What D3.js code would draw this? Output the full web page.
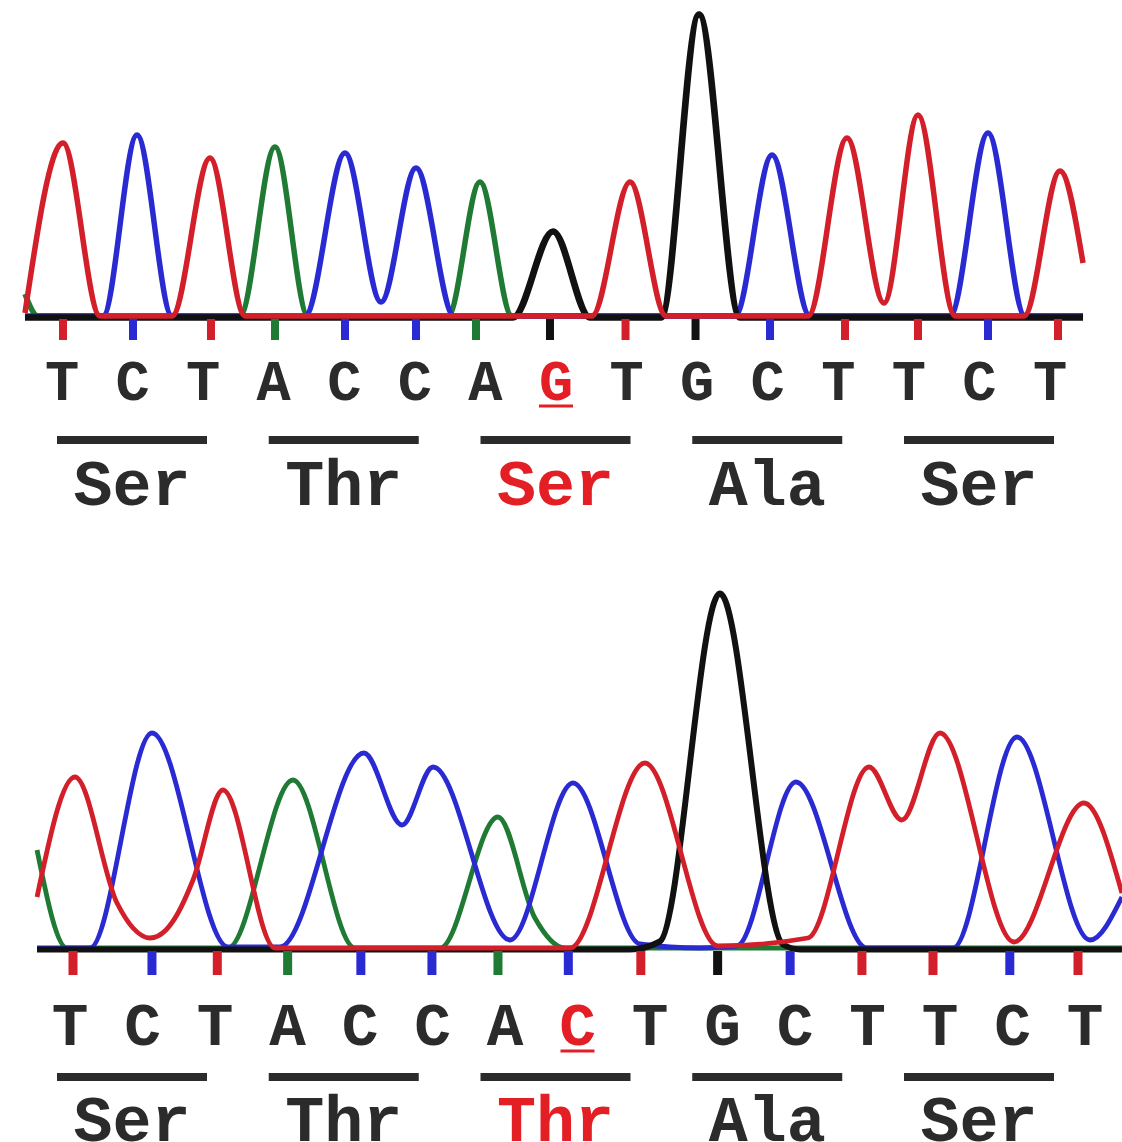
<!DOCTYPE html>
<html>
<head>
<meta charset="utf-8">
<script src="https://cdn.jsdelivr.net/npm/d3@7"></script>
<style>
  body { margin: 0; background: #fff; }
  svg { display: block; }
  .base, .amino { font-family: "Courier New", "Liberation Mono", monospace; font-weight: bold; }
</style>
</head>
<body>
<div id="chart"></div>
<script>
var svgWidth = 1122;
var svgHeight = 1142;

// base calls: wild type (top) and mutant (bottom)
var basesTop = ["T","C","T","A","C","C","A","G","T","G","C","T","T","C","T"];
var basesBottom = ["T","C","T","A","C","C","A","C","T","G","C","T","T","C","T"];
var mutatedBase = 7;

var aminoTop = ["Ser","Thr","Ser","Ala","Ser"];
var aminoBottom = ["Ser","Thr","Thr","Ala","Ser"];
var mutatedCodon = 2;

// where each call sits on the trace (in base units)
var callsTop = [0, 0.985, 2.082, 2.983, 3.968, 4.967, 5.811, 6.852, 7.915, 8.900, 9.948, 11.003, 12.030, 13.015, 14.0];
var callsBottom = [0, 1.100, 2.010, 2.990, 4.010, 5.000, 5.920, 6.900, 7.910, 8.980, 9.990, 10.990, 11.980, 13.050, 14.0];

// trace turning points [position, signal]
var topT = [[-0.535,3],[0,173],[0.521,0],[1.534,0],[2.068,158],[2.561,0],[7.443,0],[7.978,134],[8.485,0],
  [10.483,0],[11.031,178],[11.552,13],[12.030,201],[12.552,0],[13.522,0],[14.028,145],[14.352,53]];
var topC = [[-0.535,0],[0.563,0],[1.041,181],[1.534,0],[3.405,0],[3.968,163],[4.474,14],[4.967,148],[5.502,0],
  [9.455,0],[9.976,161],[10.511,0],[12.481,0],[13.015,183],[13.536,0],[14.352,0]];
var topA = [[-0.535,22],[-0.352,0],[2.490,0],[2.983,169],[3.447,0],[5.417,0],[5.867,134],[6.318,0],[14.352,0]];
var topG = [[-0.535,0],[6.332,0],[6.895,86],[7.415,0],[8.414,0],[8.949,303],[9.526,0],[14.352,0]];

var bottomT = [[-0.501,51],[0.028,171],[0.613,45],[0.836,20],[1.073,10],[1.295,18],[1.463,35],[1.672,68],
  [2.089,158],[2.814,0],[6.923,0],[7.967,185],[8.984,2],[10.238,10],[11.088,181],[11.547,128],[12.077,215],
  [13.108,6],[14.083,145],[14.612,55]];
var bottomC = [[-0.501,0],[0.237,0],[1.100,215],[2.159,1],[2.883,1],[4.053,195],[4.583,123],[5.015,181],
  [6.087,8],[6.965,165],[7.898,4],[8.734,0],[9.249,2],[10.071,166],[11.060,0],[12.258,0],[13.150,211],
  [14.166,8],[14.612,51]];
var bottomA = [[-0.501,98],[-0.084,0],[2.159,0],[3.064,168],[3.928,0],[5.112,0],[5.920,131],[6.435,30],
  [6.853,0],[14.612,0]];
var bottomG = [[-0.501,0],[7.759,0],[8.176,8],[9.012,356],[9.890,5],[10.127,0],[14.612,0]];

var baseColor = { A: "#1f7a33", C: "#2a2ad2", G: "#111111", T: "#d21f29" };
var textColor = "#2b2b2b";
var markRed = "#e31e25";

var panels = [
  { traces: { A: topA, C: topC, G: topG, T: topT }, calls: callsTop, bases: basesTop, amino: aminoTop,
    xRange: [63, 1058], baseline: 316, yMax: 300, lineWidth: 5.5,
    tickTop: 319, tickBottom: 340, tickWidth: 8,
    letterRange: [62, 1050], letterY: 400, letterSize: 57,
    barY: 440, aminoY: 505 },
  { traces: { A: bottomA, C: bottomC, G: bottomG, T: bottomT }, calls: callsBottom, bases: basesBottom, amino: aminoBottom,
    xRange: [73, 1078], baseline: 948, yMax: 360, lineWidth: 4.8,
    tickTop: 951, tickBottom: 975, tickWidth: 9,
    letterRange: [70, 1085], letterY: 1045, letterSize: 61,
    barY: 1077, aminoY: 1141 }
];

var svg = d3.select("#chart")
  .append("svg")
  .attr("width", svgWidth)
  .attr("height", svgHeight);

// codon bars are placed the same way in both panels
var codonX = d3.scalePoint().domain(d3.range(5)).range([57, 904]);
var barWidth = 150;

panels.forEach(function(p) {
  var x = d3.scaleLinear().domain([0, 14]).range(p.xRange);
  var y = d3.scaleLinear().domain([0, p.yMax]).range([p.baseline, p.baseline - p.yMax]);

  var line = d3.line()
    .x(function(d) { return x(d[0]); })
    .y(function(d) { return y(d[1]); })
    .curve(d3.curveMonotoneX);

  var g = svg.append("g");

  // green, blue, then the black (thicker, a bit lower, hides their baselines), red on top
  ["A", "C", "G", "T"].forEach(function(b) {
    g.append("path")
      .datum(p.traces[b])
      .attr("d", line)
      .attr("transform", b === "G" ? "translate(0,1.5)" : null)
      .attr("fill", "none")
      .attr("stroke", baseColor[b])
      .attr("stroke-width", b === "G" ? p.lineWidth + 1.2 : p.lineWidth)
      .attr("stroke-linejoin", "round")
      .attr("stroke-linecap", "butt");
  });

  // base call ticks
  g.selectAll("rect.tick")
    .data(p.calls)
    .enter()
    .append("rect")
    .attr("class", "tick")
    .attr("x", function(d) { return x(d) - p.tickWidth / 2; })
    .attr("y", p.tickTop)
    .attr("width", p.tickWidth)
    .attr("height", p.tickBottom - p.tickTop)
    .attr("fill", function(d, i) { return baseColor[p.bases[i]]; });

  // sequence letters
  var letterX = d3.scalePoint().domain(d3.range(p.bases.length)).range(p.letterRange);

  g.selectAll("text.base")
    .data(p.bases)
    .enter()
    .append("text")
    .attr("class", "base")
    .attr("x", function(d, i) { return letterX(i); })
    .attr("y", p.letterY)
    .attr("text-anchor", "middle")
    .attr("font-size", p.letterSize + "px")
    .attr("fill", function(d, i) { return i === mutatedBase ? markRed : textColor; })
    .text(function(d) { return d; });

  g.append("line")
    .attr("x1", letterX(mutatedBase) - 17)
    .attr("x2", letterX(mutatedBase) + 17)
    .attr("y1", p.letterY + 6)
    .attr("y2", p.letterY + 6)
    .attr("stroke", markRed)
    .attr("stroke-width", 3);

  // codon bars + amino acids
  g.selectAll("rect.codon")
    .data(p.amino)
    .enter()
    .append("rect")
    .attr("class", "codon")
    .attr("x", function(d, i) { return codonX(i); })
    .attr("y", p.barY - 4)
    .attr("width", barWidth)
    .attr("height", 8)
    .attr("fill", textColor);

  g.selectAll("text.amino")
    .data(p.amino)
    .enter()
    .append("text")
    .attr("class", "amino")
    .attr("x", function(d, i) { return codonX(i) + barWidth / 2; })
    .attr("y", p.aminoY)
    .attr("text-anchor", "middle")
    .attr("font-size", "65px")
    .attr("fill", function(d, i) { return i === mutatedCodon ? markRed : textColor; })
    .text(function(d) { return d; });
});
</script>
</body>
</html>
